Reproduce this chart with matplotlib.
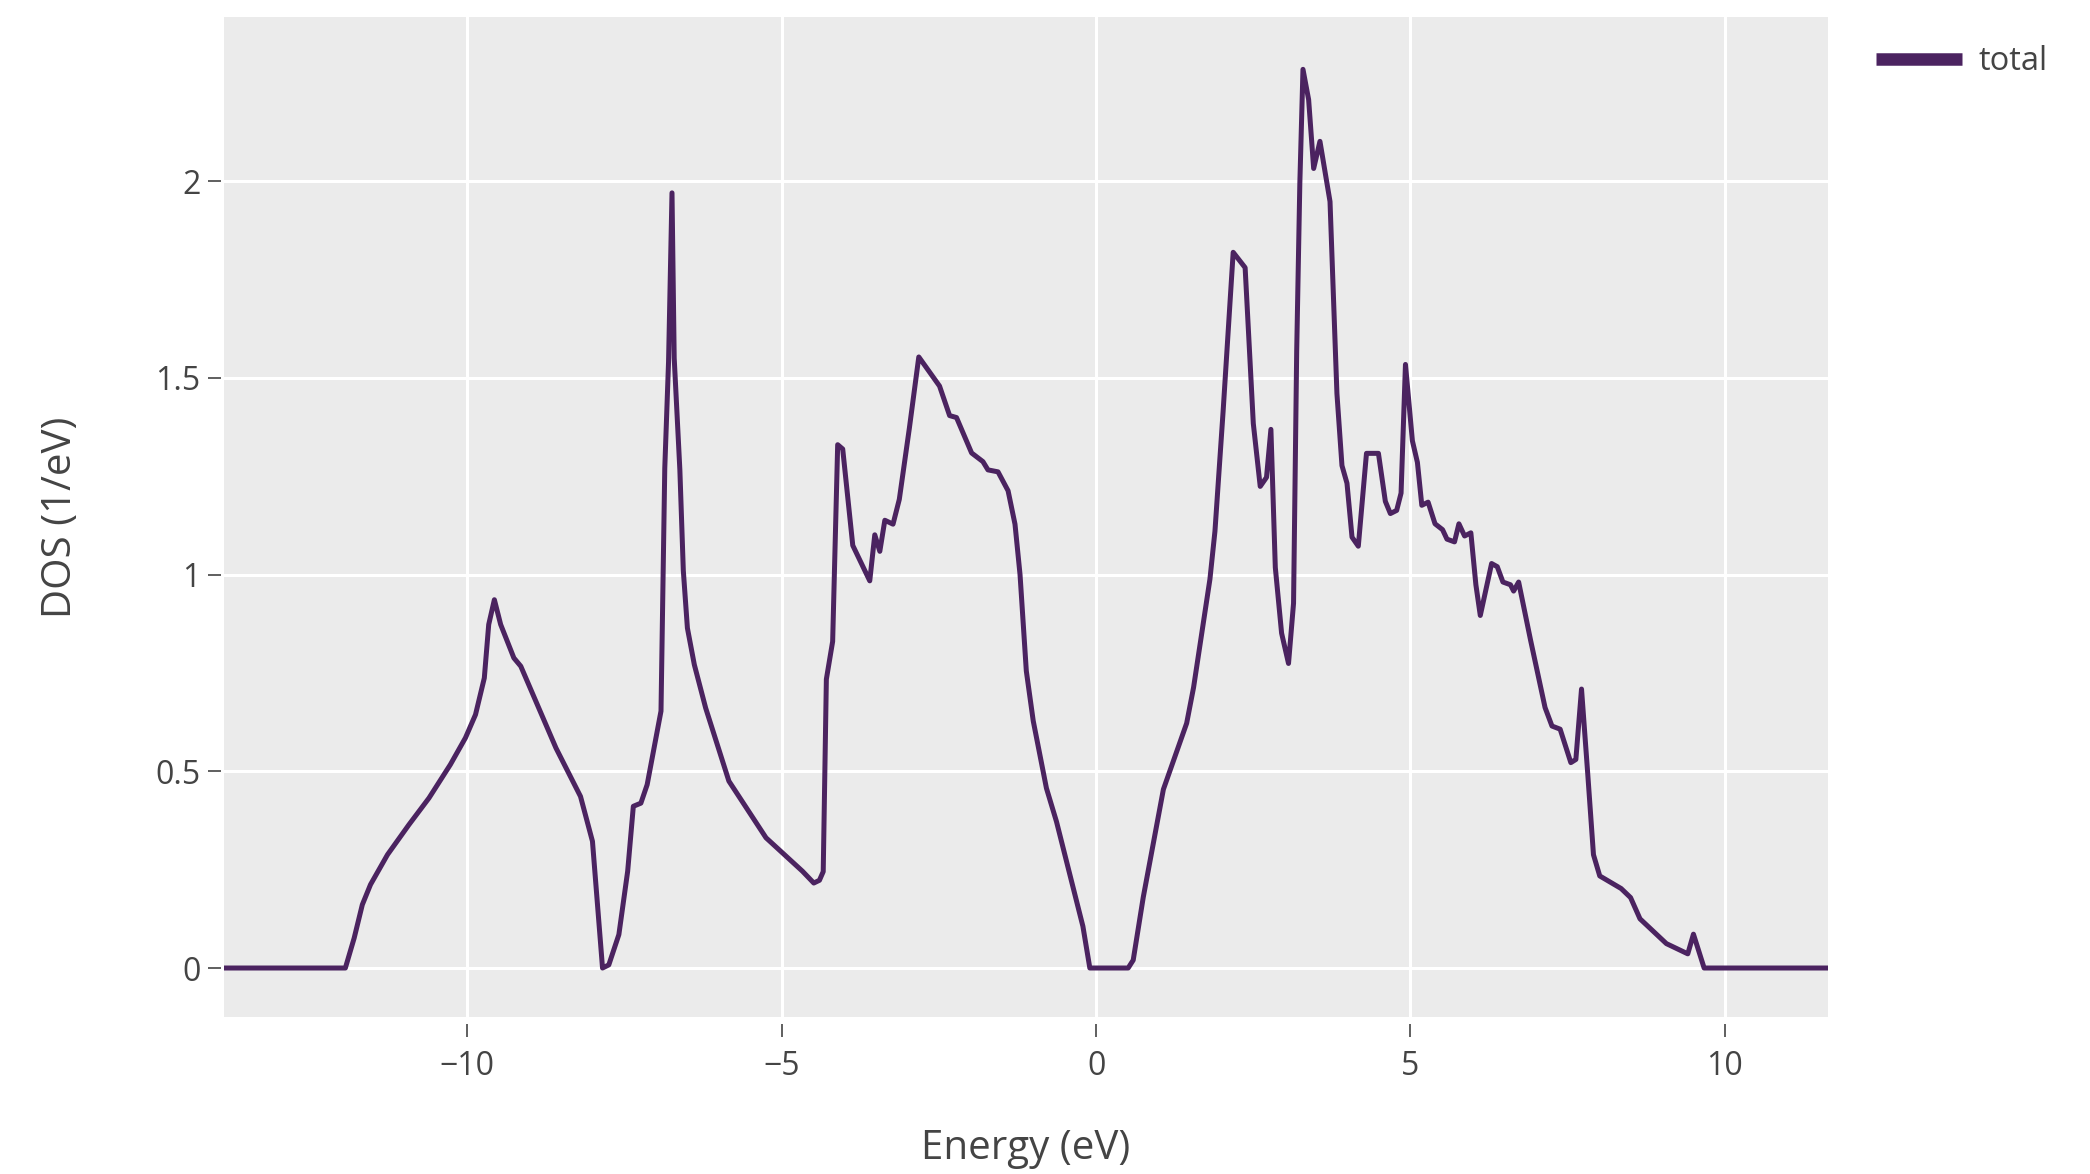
import matplotlib
matplotlib.use("Agg")
import matplotlib.pyplot as plt

# values
energy = [-13.9, -11.94, -11.80, -11.67, -11.54, -11.27, -10.93, -10.61, -10.27, -10.03,
          -9.87, -9.73, -9.66, -9.57, -9.47, -9.26, -9.15, -8.59, -8.20, -8.01,
          -7.85, -7.75, -7.59, -7.45, -7.36, -7.24, -7.14, -6.92, -6.86, -6.80,
          -6.745, -6.71, -6.62, -6.565, -6.50, -6.39, -6.21, -5.84, -5.25, -4.67,
          -4.49, -4.40, -4.34, -4.29, -4.19, -4.11, -4.03, -3.87, -3.60, -3.52,
          -3.44, -3.36, -3.23, -3.13, -2.97, -2.82, -2.49, -2.33, -2.22, -1.98,
          -1.80, -1.72, -1.56, -1.40, -1.29, -1.21, -1.11, -1.00, -0.79, -0.63,
          -0.21, -0.10, 0.51, 0.59, 0.75, 1.07, 1.44, 1.55, 1.81, 1.89,
          2.02, 2.18, 2.37, 2.50, 2.61, 2.71, 2.78, 2.85, 2.95, 3.06,
          3.14, 3.19, 3.24, 3.29, 3.38, 3.46, 3.56, 3.72, 3.83, 3.91,
          3.99, 4.07, 4.17, 4.30, 4.49, 4.60, 4.68, 4.78, 4.85, 4.92,
          5.03, 5.11, 5.18, 5.28, 5.39, 5.51, 5.58, 5.70, 5.77, 5.86,
          5.96, 6.04, 6.11, 6.29, 6.38, 6.47, 6.59, 6.64, 6.72, 6.91,
          7.14, 7.25, 7.38, 7.55, 7.63, 7.72, 7.82, 7.91, 8.01, 8.35,
          8.50, 8.65, 9.07, 9.41, 9.50, 9.67, 11.7]
dos = [0.0, 0.0, 0.076, 0.161, 0.212, 0.288, 0.364, 0.432, 0.517, 0.585,
       0.644, 0.737, 0.873, 0.936, 0.873, 0.788, 0.767, 0.559, 0.436, 0.322,
       0.0, 0.008, 0.085, 0.246, 0.411, 0.419, 0.466, 0.653, 1.27, 1.54,
       1.97, 1.55, 1.266, 1.01, 0.864, 0.771, 0.661, 0.475, 0.331, 0.246,
       0.216, 0.223, 0.245, 0.734, 0.83, 1.330, 1.319, 1.074, 0.984, 1.101,
       1.059, 1.138, 1.128, 1.191, 1.372, 1.553, 1.479, 1.404, 1.399, 1.309,
       1.287, 1.266, 1.261, 1.213, 1.128, 1.0, 0.755, 0.628, 0.457, 0.372,
       0.106, 0.0, 0.0, 0.02, 0.18, 0.454, 0.622, 0.713, 0.988, 1.11,
       1.415, 1.819, 1.780, 1.384, 1.224, 1.247, 1.369, 1.018, 0.851, 0.774,
       0.927, 1.567, 1.994, 2.284, 2.207, 2.032, 2.101, 1.948, 1.46, 1.277,
       1.232, 1.095, 1.072, 1.308, 1.308, 1.186, 1.155, 1.163, 1.207, 1.534,
       1.34, 1.285, 1.176, 1.184, 1.129, 1.114, 1.09, 1.083, 1.129, 1.098,
       1.106, 0.974, 0.896, 1.028, 1.02, 0.981, 0.974, 0.958, 0.981, 0.833,
       0.662, 0.615, 0.607, 0.522, 0.53, 0.709, 0.491, 0.288, 0.234, 0.202,
       0.179, 0.125, 0.062, 0.036, 0.086, 0.0, 0.0]
x_ticks = [-10, -5, 0, 5, 10]
x_tick_labels = ["\u221210", "\u22125", "0", "5", "10"]
y_ticks = [0, 0.5, 1, 1.5, 2]
y_tick_labels = ["0", "0.5", "1", "1.5", "2"]

plt.rcParams["font.family"] = ["Open Sans", "DejaVu Sans"]
text_color = "#444444"
line_color = "#4b2360"

fig = plt.figure(figsize=(20.9, 11.74), dpi=100)
ax = fig.add_axes([224 / 2090, 1 - 1017 / 1174, 1604 / 2090, 1000 / 1174])
ax.set_facecolor("#ebebeb")

ax.plot(energy, dos, color=line_color, linewidth=3.6, label="total", zorder=3,
        solid_joinstyle="round")

ax.set_xlim(-13.87, 11.64)
ax.set_ylim(-0.1245, 2.417)
ax.set_xticks(x_ticks)
ax.set_xticklabels(x_tick_labels)
ax.set_yticks(y_ticks)
ax.set_yticklabels(y_tick_labels)
ax.grid(True, color="white", linewidth=2.2)
ax.set_axisbelow(True)

for side in ["top", "right", "left", "bottom"]:
    ax.spines[side].set_visible(False)
ax.spines["bottom"].set_position(("outward", 5))
ax.spines["left"].set_position(("outward", 2.5))

ax.tick_params(axis="both", direction="out", length=9.5, width=1.2,
               color=text_color, labelcolor=text_color, labelsize=23)
ax.tick_params(axis="x", pad=9)
ax.tick_params(axis="y", pad=5)

ax.set_xlabel("Energy (eV)", fontsize=29, color=text_color, va="center")
ax.xaxis.set_label_coords(0.5, -0.132)
ax.set_ylabel("DOS (1/eV)", fontsize=29, color=text_color, va="center")
ax.yaxis.set_label_coords(-0.102, 0.5)

leg = ax.legend(loc="center left", bbox_to_anchor=(1876 / 2090, 1 - 62 / 1174),
                bbox_transform=fig.transFigure, frameon=False, fontsize=23.5,
                borderpad=0, borderaxespad=0, handlelength=2.65, handletextpad=0.5)
for t in leg.get_texts():
    t.set_color(text_color)
leg_line = leg.get_lines()[0]
leg_line.set_linewidth(9)
leg_line.set_solid_capstyle("butt")

fig.savefig("out.png", dpi=100)
